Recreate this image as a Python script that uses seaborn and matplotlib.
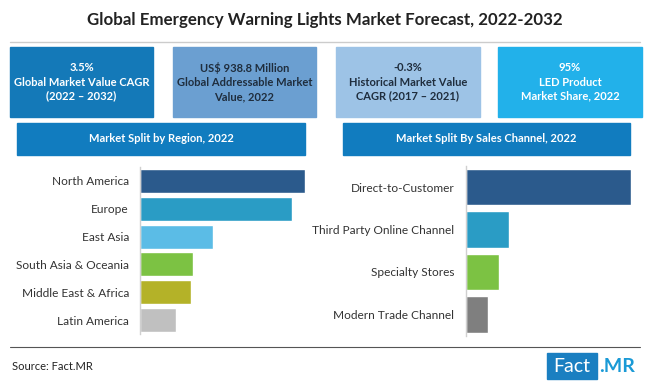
import pandas as pd
import matplotlib.pyplot as plt
import seaborn as sns
from matplotlib.patches import Rectangle

sns.set_theme(style="white")
plt.rcParams['font.family'] = ['Lato', 'DejaVu Sans']

# data (estimated share, %)
regions = ['North America', 'Europe', 'East Asia', 'South Asia & Oceania',
           'Middle East & Africa', 'Latin America']
region_share = [31.1, 28.7, 13.8, 10.0, 9.6, 6.8]
region_colors = ['#2b5a8c', '#2a9cc5', '#5bbce6', '#7cc243', '#b4b228', '#c0c0c0']

channels = ['Direct-to-Customer', 'Third Party Online Channel', 'Specialty Stores',
            'Modern Trade Channel']
channel_share = [62.2, 16.5, 12.7, 8.6]
channel_colors = ['#2b5a8c', '#2a9cc5', '#7cc243', '#7f7f7f']

kpi_values = ['3.5%', 'US$ 938.8 Million', '-0.3%', '95%']
kpi_labels = ['Global Market Value CAGR\n(2022 – 2032)',
              'Global Addressable Market\nValue, 2022',
              'Historical Market Value\nCAGR (2017 – 2021)',
              'LED Product\nMarket Share, 2022']
kpi_colors = ['#1479b8', '#6b9fd1', '#9dc3e6', '#22b1ea']
kpi_text = ['white', '#1f2d3d', '#1f2d3d', 'white']

W, H = 650, 385
fig = plt.figure(figsize=(6.5, 3.85), dpi=100)


def px_rect(x0, y0, x1, y1, color):
    fig.patches.append(Rectangle((x0 / W, 1 - y1 / H), (x1 - x0) / W, (y1 - y0) / H,
                                 transform=fig.transFigure, color=color, zorder=0))


# title
fig.text(325 / W, 1 - 20 / H, 'Global Emergency Warning Lights Market Forecast, 2022-2032',
         ha='center', va='center', fontsize=12.2, fontweight='bold', color='#222222')
fig.add_artist(plt.Line2D([10 / W, 640 / W], [1 - 42 / H] * 2, color='#cccccc', lw=1))

# KPI boxes
box_x = [(10, 153), (173, 316), (336, 480), (498, 642)]
for (x0, x1), v, lab, c, tc in zip(box_x, kpi_values, kpi_labels, kpi_colors, kpi_text):
    px_rect(x0, 47, x1, 117, c)
    fig.text((x0 + x1) / 2 / W, 1 - 82 / H, v + '\n' + lab, ha='center', va='center',
             fontsize=8, fontweight='bold', color=tc, linespacing=1.35)

# panel headers
px_rect(17, 123, 305, 155, '#117cbf')
fig.text(161 / W, 1 - 139 / H, 'Market Split by Region, 2022', ha='center', va='center',
         fontsize=8, fontweight='bold', color='white')
px_rect(343, 123, 630, 155, '#117cbf')
fig.text(486 / W, 1 - 139 / H, 'Market Split By Sales Channel, 2022', ha='center', va='center',
         fontsize=8, fontweight='bold', color='white')

# region chart
df_r = pd.DataFrame({'region': regions, 'share': region_share})
ax1 = fig.add_axes([140 / W, 1 - 334 / H, 165 / W, 167 / H])
sns.barplot(data=df_r, y='region', x='share', hue='region', palette=region_colors,
            width=0.86, legend=False, ax=ax1, saturation=1)
ax1.set_xlim(0, max(region_share))
ax1.set_ylim(len(regions) - 0.5, -0.5)

# channel chart
df_c = pd.DataFrame({'channel': channels, 'share': channel_share})
ax2 = fig.add_axes([465.5 / W, 1 - 335.75 / H, 165.5 / W, 170 / H])
sns.barplot(data=df_c, y='channel', x='share', hue='channel', palette=channel_colors,
            width=0.85, legend=False, ax=ax2, saturation=1)
ax2.set_xlim(0, max(channel_share))
ax2.set_ylim(len(channels) - 0.5, -0.5)

for ax in (ax1, ax2):
    ax.set_xlabel('')
    ax.set_ylabel('')
    ax.set_xticks([])
    ax.tick_params(axis='y', length=0, pad=8, labelsize=8.6, labelcolor='#333333')
    for s in ('top', 'right', 'bottom'):
        ax.spines[s].set_visible(False)
    ax.spines['left'].set_color('#d0d0d0')
    ax.spines['left'].set_linewidth(1)
    ax.set_facecolor('none')

# footer
fig.add_artist(plt.Line2D([10 / W, 640 / W], [1 - 347 / H] * 2, color='#555555', lw=0.8))
fig.text(12 / W, 1 - 366 / H, 'Source: Fact.MR', ha='left', va='center', fontsize=8,
         color='#222222')
px_rect(547, 353, 597, 379, '#1a7fc1')
fig.text(572 / W, 1 - 366 / H, 'Fact', ha='center', va='center', fontsize=14,
         color='white')
fig.text(599 / W, 1 - 366 / H, '.MR', ha='left', va='center', fontsize=14,
         fontweight='bold', color='#1a9ad6')

fig.savefig('out.png', dpi=100)
